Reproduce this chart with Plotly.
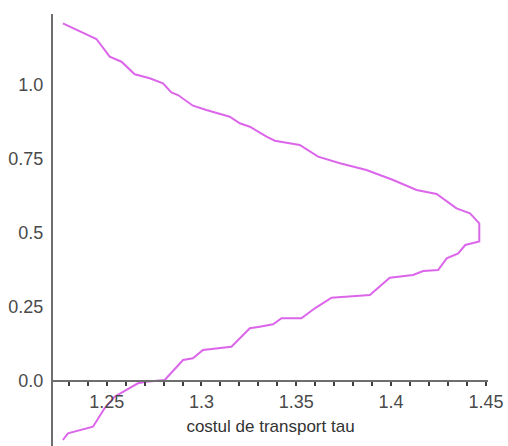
import plotly.graph_objects as go

# Transport cost tau (x) against the parameter on the vertical axis (y)
tau = [
    1.2269, 1.2446, 1.2516, 1.2578, 1.2648, 1.2727, 1.2797, 1.2841, 1.2876,
    1.2955, 1.3026, 1.3149, 1.3202, 1.3255, 1.3343, 1.3387, 1.3518, 1.3615,
    1.3730, 1.3870, 1.4011, 1.4134, 1.4240, 1.4345, 1.4416, 1.4465, 1.4465,
    1.4391, 1.4354, 1.4293, 1.4248, 1.4169, 1.4116, 1.3993, 1.3888, 1.3818,
    1.3686, 1.3598, 1.3527, 1.3422, 1.3378, 1.3307, 1.3255, 1.3158, 1.3008,
    1.2955, 1.2903, 1.2806, 1.2709, 1.2665, 1.2604, 1.2542, 1.2489, 1.2428,
    1.2296, 1.2269,
]
share = [
    1.2084, 1.1554, 1.0956, 1.0787, 1.0361, 1.0226, 1.0057, 0.9753, 0.9662,
    0.9301, 0.9155, 0.8929, 0.8706, 0.8591, 0.8253, 0.8118, 0.7973, 0.7578,
    0.7355, 0.7128, 0.6791, 0.6453, 0.6318, 0.5834, 0.5666, 0.5328, 0.4713,
    0.4595, 0.4314, 0.4145, 0.3750, 0.3716, 0.3581, 0.3490, 0.2905, 0.2882,
    0.2814, 0.2456, 0.2118, 0.2118, 0.1915, 0.1834, 0.1780, 0.1159, 0.1047,
    0.0767, 0.0709, 0.0034, -0.0024, -0.0078, -0.0304, -0.0530, -0.0922,
    -0.1544, -0.1767, -0.1993,
]

x_tick_vals = [1.25, 1.30, 1.35, 1.40, 1.45]
x_tick_text = ["1.25", "1.3", "1.35", "1.4", "1.45"]
x_minor_step = 0.01
y_tick_vals = [0.0, 0.25, 0.5, 0.75, 1.0]
y_tick_text = ["0.0", "0.25", "0.5", "0.75", "1.0"]

x_range = [1.2217, 1.4511]
y_range = [-0.2196, 1.2399]

# the horizontal axis crosses the vertical one at y = 0
x_axis_pos = (0 - y_range[0]) / (y_range[1] - y_range[0])

font_family = "Liberation Sans, Arial, sans-serif"
axis_grey = "#6e6e6e"
tick_grey = "#404040"
label_grey = "#4a4a4a"

fig = go.Figure()

# invisible copy of the curve that carries the small tick marks every 0.01
fig.add_trace(
    go.Scatter(
        x=tau, y=share, mode="lines", xaxis="x2",
        line=dict(color="rgba(0,0,0,0)", width=0),
        hoverinfo="skip", showlegend=False,
    )
)

fig.add_trace(
    go.Scatter(
        x=tau,
        y=share,
        mode="lines",
        line=dict(color="#dc66ea", width=2),
        hoverinfo="skip",
        showlegend=False,
    )
)

fig.update_layout(
    width=508,
    height=446,
    margin=dict(l=53, r=20, t=14, b=0),
    paper_bgcolor="white",
    plot_bgcolor="white",
    font=dict(family=font_family, size=18, color=label_grey),
    xaxis=dict(
        range=x_range,
        anchor="free",
        position=x_axis_pos,
        showline=True,
        linecolor=axis_grey,
        linewidth=2,
        showgrid=False,
        zeroline=False,
        tickvals=x_tick_vals,
        ticktext=x_tick_text,
        ticks="outside",
        ticklen=4,
        tickwidth=2,
        tickcolor=tick_grey,
        tickfont=dict(size=18, color=label_grey),
        title=dict(text="costul de transport tau",
                   font=dict(size=17, color="#333333"), standoff=8),
    ),
    xaxis2=dict(
        range=x_range,
        overlaying="x",
        anchor="free",
        position=x_axis_pos,
        side="bottom",
        showline=False,
        showgrid=False,
        zeroline=False,
        tickmode="linear",
        tick0=x_tick_vals[0],
        dtick=x_minor_step,
        ticks="outside",
        ticklen=4,
        tickwidth=2,
        tickcolor=tick_grey,
        showticklabels=False,
    ),
    yaxis=dict(
        range=y_range,
        showline=True,
        linecolor=axis_grey,
        linewidth=2,
        showgrid=False,
        zeroline=False,
        tickvals=y_tick_vals,
        ticktext=y_tick_text,
        ticks="outside",
        ticklen=4,
        tickcolor="rgba(0,0,0,0)",
        tickfont=dict(size=18, color=label_grey),
    ),
)

fig.write_html("out.html")
